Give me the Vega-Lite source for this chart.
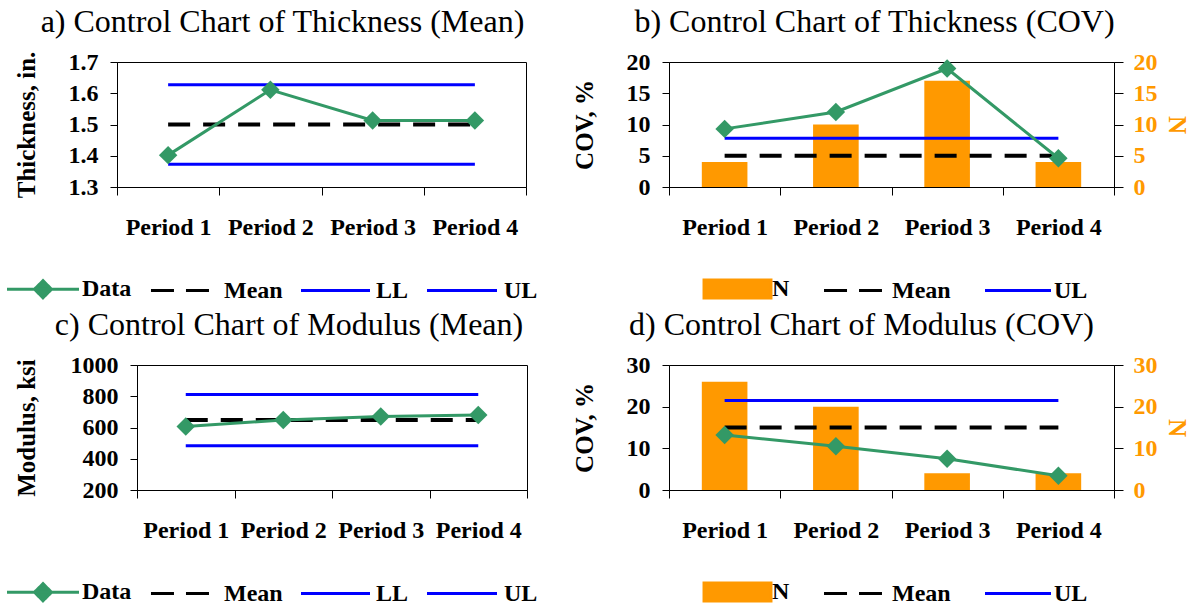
{
  "$schema": "https://vega.github.io/schema/vega-lite/v6.json",
  "background": "white",
  "padding": {"left": 13, "top": 5, "right": 4, "bottom": 2},
  "config": {
    "font": "Liberation Serif",
    "view": {"stroke": "black", "strokeWidth": 1},
    "title": {"font": "Liberation Serif", "fontSize": 32, "fontWeight": "normal", "color": "black", "anchor": "middle", "frame": "group", "offset": 11},
    "axis": {"labelFont": "Liberation Serif", "labelFontSize": 24, "labelFontWeight": "bold", "labelColor": "black", "titleFont": "Liberation Serif", "titleFontSize": 25, "titleFontWeight": "bold", "titleColor": "black", "domainColor": "black", "tickColor": "black", "grid": false, "tickSize": 7, "labelPadding": 12, "labelOverlap": false},
    "legend": {"orient": "none", "direction": "horizontal", "title": null, "padding": 0, "labelFont": "Liberation Serif", "labelFontSize": 24, "labelFontWeight": "bold", "labelColor": "black", "symbolSize": 144, "symbolStrokeWidth": 3, "labelOffset": 27}
  },
  "datasets": {
    "spacer": [{"k": 0}],
    "thickMean": [
      {"period": "Period 1", "series": "Data", "value": 1.402},
      {"period": "Period 2", "series": "Data", "value": 1.611},
      {"period": "Period 3", "series": "Data", "value": 1.513},
      {"period": "Period 4", "series": "Data", "value": 1.513},
      {"period": "Period 1", "series": "Mean", "value": 1.5},
      {"period": "Period 2", "series": "Mean", "value": 1.5},
      {"period": "Period 3", "series": "Mean", "value": 1.5},
      {"period": "Period 4", "series": "Mean", "value": 1.5},
      {"period": "Period 1", "series": "LL", "value": 1.373},
      {"period": "Period 2", "series": "LL", "value": 1.373},
      {"period": "Period 3", "series": "LL", "value": 1.373},
      {"period": "Period 4", "series": "LL", "value": 1.373},
      {"period": "Period 1", "series": "UL", "value": 1.627},
      {"period": "Period 2", "series": "UL", "value": 1.627},
      {"period": "Period 3", "series": "UL", "value": 1.627},
      {"period": "Period 4", "series": "UL", "value": 1.627}
    ],
    "thickCov": [
      {"period": "Period 1", "series": "N", "value": 4},
      {"period": "Period 2", "series": "N", "value": 10},
      {"period": "Period 3", "series": "N", "value": 17},
      {"period": "Period 4", "series": "N", "value": 4},
      {"period": "Period 1", "series": "Data", "value": 9.3},
      {"period": "Period 2", "series": "Data", "value": 12.0},
      {"period": "Period 3", "series": "Data", "value": 18.95},
      {"period": "Period 4", "series": "Data", "value": 4.6},
      {"period": "Period 1", "series": "Mean", "value": 5},
      {"period": "Period 2", "series": "Mean", "value": 5},
      {"period": "Period 3", "series": "Mean", "value": 5},
      {"period": "Period 4", "series": "Mean", "value": 5},
      {"period": "Period 1", "series": "UL", "value": 7.8},
      {"period": "Period 2", "series": "UL", "value": 7.8},
      {"period": "Period 3", "series": "UL", "value": 7.8},
      {"period": "Period 4", "series": "UL", "value": 7.8}
    ],
    "modMean": [
      {"period": "Period 1", "series": "Data", "value": 607},
      {"period": "Period 2", "series": "Data", "value": 648},
      {"period": "Period 3", "series": "Data", "value": 670},
      {"period": "Period 4", "series": "Data", "value": 680},
      {"period": "Period 1", "series": "Mean", "value": 648},
      {"period": "Period 2", "series": "Mean", "value": 648},
      {"period": "Period 3", "series": "Mean", "value": 648},
      {"period": "Period 4", "series": "Mean", "value": 648},
      {"period": "Period 1", "series": "LL", "value": 484},
      {"period": "Period 2", "series": "LL", "value": 484},
      {"period": "Period 3", "series": "LL", "value": 484},
      {"period": "Period 4", "series": "LL", "value": 484},
      {"period": "Period 1", "series": "UL", "value": 812},
      {"period": "Period 2", "series": "UL", "value": 812},
      {"period": "Period 3", "series": "UL", "value": 812},
      {"period": "Period 4", "series": "UL", "value": 812}
    ],
    "modCov": [
      {"period": "Period 1", "series": "N", "value": 26},
      {"period": "Period 2", "series": "N", "value": 20},
      {"period": "Period 3", "series": "N", "value": 4},
      {"period": "Period 4", "series": "N", "value": 4},
      {"period": "Period 1", "series": "Data", "value": 13.2},
      {"period": "Period 2", "series": "Data", "value": 10.5},
      {"period": "Period 3", "series": "Data", "value": 7.5},
      {"period": "Period 4", "series": "Data", "value": 3.4},
      {"period": "Period 1", "series": "Mean", "value": 15},
      {"period": "Period 2", "series": "Mean", "value": 15},
      {"period": "Period 3", "series": "Mean", "value": 15},
      {"period": "Period 4", "series": "Mean", "value": 15},
      {"period": "Period 1", "series": "UL", "value": 21.5},
      {"period": "Period 2", "series": "UL", "value": 21.5},
      {"period": "Period 3", "series": "UL", "value": 21.5},
      {"period": "Period 4", "series": "UL", "value": 21.5}
    ]
  },
  "hconcat": [
    {
      "vconcat": [
        {
          "width": 409, "height": 125,
          "title": {"text": "a) Control Chart of Thickness (Mean)", "dx": -39},
          "data": {"name": "thickMean"},
          "encoding": {
            "x": {"field": "period", "type": "nominal", "scale": {"paddingInner": 0, "paddingOuter": 0}, "axis": {"title": null, "labelAngle": 0, "tickBand": "extent", "tickSize": 8, "labelPadding": 20}},
            "y": {"field": "value", "type": "quantitative", "scale": {"domain": [1.3, 1.7], "zero": false, "nice": false}, "axis": {"title": "Thickness, in.", "values": [1.3, 1.4, 1.5, 1.6, 1.7], "format": ".1f", "titlePadding": 29}},
            "color": {"field": "series", "type": "nominal", "scale": {"domain": ["Data", "Mean", "LL", "UL"], "range": ["#339966", "#000000", "#0000FF", "#0000FF"]},
              "legend": {"legendX": -86, "legendY": 215, "columns": 4, "columnPadding": 12,
                "encode": {"symbols": {"update": {
                  "shape": {"signal": "datum.value === 'Data' ? 'M-6,0H6M0,-1.42L1.42,0L0,1.42L-1.42,0Z' : datum.value === 'Mean' ? 'M-5.67,0H4' : datum.value === 'LL' ? 'M-6,0H5.5' : 'M-6.33,0H5.33'"},
                  "fill": {"signal": "datum.value === 'Data' ? '#339966' : 'transparent'"},
                  "stroke": {"signal": "datum.value === 'Data' ? '#339966' : datum.value === 'Mean' ? '#000000' : '#0000FF'"},
                  "strokeDash": {"signal": "datum.value === 'Mean' ? [23, 12] : [1, 0]"},
                  "strokeWidth": {"value": 3},
                  "size": {"value": 144},
                  "opacity": {"value": 1}
                }}}}}
          },
          "layer": [
            {"transform": [{"filter": "datum.series === 'LL' || datum.series === 'UL'"}], "mark": {"type": "line", "strokeWidth": 3}},
            {"transform": [{"filter": "datum.series === 'Mean'"}], "mark": {"type": "line", "strokeWidth": 4, "strokeDash": [22, 13]}},
            {"transform": [{"filter": "datum.series === 'Data'"}], "mark": {"type": "line", "strokeWidth": 3, "point": {"shape": "diamond", "size": 340, "filled": true, "opacity": 1}}}
          ]
        },
        {
          "hconcat": [
            {
              "width": 1, "height": 1,
              "view": {"stroke": null},
              "data": {"name": "spacer"},
              "mark": {"type": "point", "opacity": 0, "size": 1}
            },
            {
              "width": 390, "height": 125,
              "title": {"text": "c) Control Chart of Modulus (Mean)", "dx": -43},
              "data": {"name": "modMean"},
              "encoding": {
                "x": {"field": "period", "type": "nominal", "scale": {"paddingInner": 0, "paddingOuter": 0}, "axis": {"title": null, "labelAngle": 0, "tickBand": "extent", "tickSize": 8, "labelPadding": 20}},
                "y": {"field": "value", "type": "quantitative", "scale": {"domain": [200, 1000], "zero": false, "nice": false}, "axis": {"title": "Modulus, ksi", "values": [200, 400, 600, 800, 1000], "format": "d", "titlePadding": 31}},
                "color": {"field": "series", "type": "nominal", "scale": {"domain": ["Data", "Mean", "LL", "UL"], "range": ["#339966", "#000000", "#0000FF", "#0000FF"]},
                  "legend": {"legendX": -106, "legendY": 215, "columns": 4, "columnPadding": 12,
                    "encode": {"symbols": {"update": {
                      "shape": {"signal": "datum.value === 'Data' ? 'M-6,0H6M0,-1.42L1.42,0L0,1.42L-1.42,0Z' : datum.value === 'Mean' ? 'M-5.67,0H4' : datum.value === 'LL' ? 'M-6,0H5.5' : 'M-6.33,0H5.33'"},
                      "fill": {"signal": "datum.value === 'Data' ? '#339966' : 'transparent'"},
                      "stroke": {"signal": "datum.value === 'Data' ? '#339966' : datum.value === 'Mean' ? '#000000' : '#0000FF'"},
                      "strokeDash": {"signal": "datum.value === 'Mean' ? [23, 12] : [1, 0]"},
                      "strokeWidth": {"value": 3},
                      "size": {"value": 144},
                      "opacity": {"value": 1}
                    }}}}}
              },
              "layer": [
                {"transform": [{"filter": "datum.series === 'LL' || datum.series === 'UL'"}], "mark": {"type": "line", "strokeWidth": 3}},
                {"transform": [{"filter": "datum.series === 'Mean'"}], "mark": {"type": "line", "strokeWidth": 4, "strokeDash": [22, 13]}},
                {"transform": [{"filter": "datum.series === 'Data'"}], "mark": {"type": "line", "strokeWidth": 3, "point": {"shape": "diamond", "size": 340, "filled": true, "opacity": 1}}}
              ]
            }
          ],
          "spacing": 19,
          "bounds": "flush",
          "resolve": {"scale": {"color": "independent"}, "legend": {"color": "independent"}}
        }
      ],
      "spacing": 3,
      "resolve": {"scale": {"color": "independent"}, "legend": {"color": "independent"}}
    },
    {
      "vconcat": [
        {
          "width": 445, "height": 125,
          "title": {"text": "b) Control Chart of Thickness (COV)", "dx": -17},
          "data": {"name": "thickCov"},
          "encoding": {"x": {"field": "period", "type": "nominal", "scale": {"paddingInner": 0, "paddingOuter": 0}, "axis": {"title": null, "labelAngle": 0, "tickBand": "extent", "tickSize": 8, "labelPadding": 20}}},
          "layer": [
            {
              "transform": [{"filter": "datum.series === 'N'"}],
              "mark": {"type": "bar", "width": {"band": 0.41}},
              "encoding": {
                "y": {"field": "value", "type": "quantitative", "scale": {"domain": [0, 20], "nice": false}, "axis": {"orient": "right", "title": "N", "values": [0, 5, 10, 15, 20], "labelColor": "#FF9900", "titleColor": "#FF9900", "labelPadding": 10, "titlePadding": 6, "tickSize": 9}},
                "color": {"field": "series", "type": "nominal", "scale": {"domain": ["N", "Mean", "UL"], "range": ["#FF9900", "#000000", "#0000FF"]},
                  "legend": {"legendX": 52, "legendY": 215, "columns": 3, "columnPadding": 28,
                    "encode": {"symbols": {"update": {
                      "shape": {"signal": "datum.value === 'N' ? 'M-4.83,-1.5H6.33V1.5H-4.83Z' : datum.value === 'Mean' ? 'M-4.83,0H4.83' : 'M-5,0H6'"},
                      "fill": {"signal": "datum.value === 'N' ? '#FF9900' : 'transparent'"},
                      "stroke": {"signal": "datum.value === 'N' ? 'transparent' : datum.value === 'Mean' ? '#000000' : '#0000FF'"},
                      "strokeDash": {"signal": "datum.value === 'Mean' ? [23, 12] : [1, 0]"},
                      "strokeWidth": {"value": 3},
                      "size": {"value": 144},
                      "opacity": {"value": 1}
                    }}}}}
              }
            },
            {
              "encoding": {"y": {"field": "value", "type": "quantitative", "scale": {"domain": [0, 20], "nice": false}, "axis": {"orient": "left", "title": "COV, %", "values": [0, 5, 10, 15, 20], "titlePadding": 29}}},
              "layer": [
                {"transform": [{"filter": "datum.series === 'UL'"}], "mark": {"type": "line", "strokeWidth": 3}, "encoding": {"color": {"field": "series", "type": "nominal"}}},
                {"transform": [{"filter": "datum.series === 'Mean'"}], "mark": {"type": "line", "strokeWidth": 4, "strokeDash": [22, 13]}, "encoding": {"color": {"field": "series", "type": "nominal"}}},
                {"transform": [{"filter": "datum.series === 'Data'"}], "mark": {"type": "line", "strokeWidth": 3, "color": "#339966", "point": {"shape": "diamond", "size": 340, "filled": true, "opacity": 1, "color": "#339966"}}}
              ]
            }
          ],
          "resolve": {"scale": {"y": "independent"}}
        },
        {
          "width": 445, "height": 125,
          "title": {"text": "d) Control Chart of Modulus (COV)", "dx": -30},
          "data": {"name": "modCov"},
          "encoding": {"x": {"field": "period", "type": "nominal", "scale": {"paddingInner": 0, "paddingOuter": 0}, "axis": {"title": null, "labelAngle": 0, "tickBand": "extent", "tickSize": 8, "labelPadding": 20}}},
          "layer": [
            {
              "transform": [{"filter": "datum.series === 'N'"}],
              "mark": {"type": "bar", "width": {"band": 0.41}},
              "encoding": {
                "y": {"field": "value", "type": "quantitative", "scale": {"domain": [0, 30], "nice": false}, "axis": {"orient": "right", "title": "N", "values": [0, 10, 20, 30], "labelColor": "#FF9900", "titleColor": "#FF9900", "labelPadding": 10, "titlePadding": 6, "tickSize": 9}},
                "color": {"field": "series", "type": "nominal", "scale": {"domain": ["N", "Mean", "UL"], "range": ["#FF9900", "#000000", "#0000FF"]},
                  "legend": {"legendX": 52, "legendY": 215, "columns": 3, "columnPadding": 28,
                    "encode": {"symbols": {"update": {
                      "shape": {"signal": "datum.value === 'N' ? 'M-4.83,-1.5H6.33V1.5H-4.83Z' : datum.value === 'Mean' ? 'M-4.83,0H4.83' : 'M-5,0H6'"},
                      "fill": {"signal": "datum.value === 'N' ? '#FF9900' : 'transparent'"},
                      "stroke": {"signal": "datum.value === 'N' ? 'transparent' : datum.value === 'Mean' ? '#000000' : '#0000FF'"},
                      "strokeDash": {"signal": "datum.value === 'Mean' ? [23, 12] : [1, 0]"},
                      "strokeWidth": {"value": 3},
                      "size": {"value": 144},
                      "opacity": {"value": 1}
                    }}}}}
              }
            },
            {
              "encoding": {"y": {"field": "value", "type": "quantitative", "scale": {"domain": [0, 30], "nice": false}, "axis": {"orient": "left", "title": "COV, %", "values": [0, 10, 20, 30], "titlePadding": 29}}},
              "layer": [
                {"transform": [{"filter": "datum.series === 'UL'"}], "mark": {"type": "line", "strokeWidth": 3}, "encoding": {"color": {"field": "series", "type": "nominal"}}},
                {"transform": [{"filter": "datum.series === 'Mean'"}], "mark": {"type": "line", "strokeWidth": 4, "strokeDash": [22, 13]}, "encoding": {"color": {"field": "series", "type": "nominal"}}},
                {"transform": [{"filter": "datum.series === 'Data'"}], "mark": {"type": "line", "strokeWidth": 3, "color": "#339966", "point": {"shape": "diamond", "size": 340, "filled": true, "opacity": 1, "color": "#339966"}}}
              ]
            }
          ],
          "resolve": {"scale": {"y": "independent"}}
        }
      ],
      "spacing": 3,
      "resolve": {"scale": {"color": "independent"}, "legend": {"color": "independent"}}
    }
  ],
  "spacing": 32,
  "resolve": {"scale": {"color": "independent"}, "legend": {"color": "independent"}}
}
